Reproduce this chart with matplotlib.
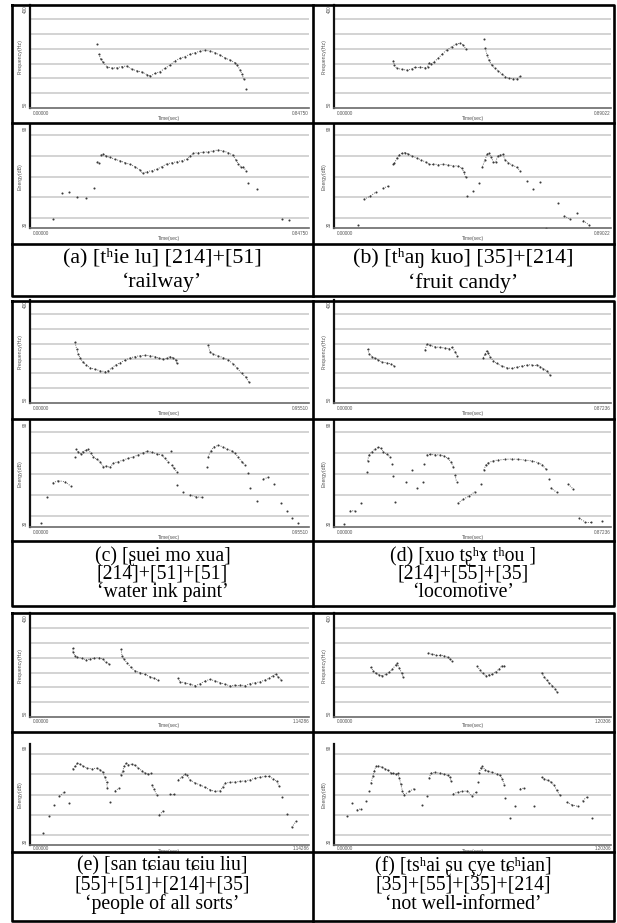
import numpy as np
import matplotlib.pyplot as plt
from matplotlib.lines import Line2D
from matplotlib.patches import Rectangle
from matplotlib.collections import LineCollection

# --- DATA (time in s, F0 in Hz, energy in dB) ---
A_FREQ_T = [0.204, 0.209, 0.215, 0.222, 0.233, 0.248, 0.263, 0.279, 0.294, 0.309, 0.324, 0.339, 0.355, 0.365,
            0.380, 0.395, 0.410, 0.425, 0.441, 0.456, 0.471, 0.486, 0.501, 0.517, 0.532, 0.547, 0.562, 0.577,
            0.592, 0.608, 0.623, 0.630, 0.638, 0.644, 0.649, 0.656]
A_FREQ_HZ = [266, 233, 215, 205, 190, 185, 186, 190, 192, 181, 176, 172, 163, 158, 167, 173, 184, 195, 210, 218,
             224, 232, 237, 242, 245, 243, 237, 229, 219, 212, 203, 194, 179, 165, 147, 113]
A_ENER_T = [0.071, 0.096, 0.119, 0.144, 0.169, 0.194, 0.205, 0.209, 0.215, 0.223, 0.231, 0.243, 0.258, 0.273,
            0.289, 0.304, 0.319, 0.334, 0.342, 0.355, 0.370, 0.385, 0.400, 0.415, 0.431, 0.446, 0.461, 0.476,
            0.486, 0.496, 0.511, 0.527, 0.542, 0.557, 0.572, 0.587, 0.602, 0.616, 0.626, 0.633, 0.640, 0.648,
            0.656, 0.663, 0.689, 0.765, 0.788]
A_ENER_DB = [35.1, 50.2, 50.8, 48.2, 47.3, 53.5, 68.6, 68.0, 72.5, 73.1, 71.9, 71.2, 70.0, 69.2, 68.0, 67.1,
             65.7, 63.8, 61.9, 62.8, 63.4, 64.2, 65.7, 67.3, 68.0, 68.6, 69.2, 70.0, 71.9, 73.5, 73.9, 74.1,
             74.4, 75.0, 75.4, 74.9, 73.9, 72.5, 69.6, 67.3, 65.7, 65.7, 63.4, 56.0, 52.7, 35.2, 34.5]

B_FREQ_T = [0.191, 0.194, 0.202, 0.218, 0.234, 0.250, 0.260, 0.276, 0.293, 0.301, 0.305, 0.312, 0.322, 0.335,
            0.348, 0.362, 0.378, 0.391, 0.405, 0.416, 0.424, 0.482, 0.486, 0.492, 0.498, 0.507, 0.518, 0.528,
            0.539, 0.550, 0.562, 0.576, 0.589, 0.598]
B_FREQ_HZ = [210, 195, 184, 181, 178, 182, 188, 188, 186, 190, 203, 198, 207, 218, 233, 246, 257, 266, 269, 263,
             249, 284, 252, 229, 212, 195, 184, 175, 165, 156, 150, 149, 148, 158]
B_ENER_T = [0.076, 0.096, 0.117, 0.135, 0.157, 0.175, 0.191, 0.194, 0.202, 0.209, 0.218, 0.228, 0.239, 0.252,
            0.266, 0.280, 0.295, 0.305, 0.319, 0.335, 0.351, 0.367, 0.383, 0.400, 0.410, 0.417, 0.423, 0.428,
            0.446, 0.467, 0.477, 0.485, 0.492, 0.498, 0.505, 0.512, 0.520, 0.526, 0.535, 0.543, 0.550, 0.560,
            0.573, 0.587, 0.598, 0.619, 0.639, 0.662, 0.680, 0.719, 0.740, 0.759, 0.780, 0.801, 0.820]
B_ENER_DB = [31.7, 46.7, 48.6, 51.0, 53.1, 54.5, 67.1, 67.7, 70.6, 72.5, 73.5, 73.9, 73.1, 71.9, 70.8, 69.6,
             68.4, 67.3, 67.3, 66.9, 67.1, 66.7, 66.3, 66.1, 64.9, 62.8, 59.5, 48.6, 51.6, 56.4, 65.7, 69.6,
             73.1, 73.5, 71.2, 68.6, 68.6, 72.1, 72.5, 72.9, 69.6, 68.0, 66.7, 65.4, 63.4, 57.4, 52.5, 56.6,
             30.2, 44.4, 37.0, 35.1, 38.9, 34.3, 31.7]

C_FREQ_T = [0.154, 0.160, 0.165, 0.171, 0.180, 0.192, 0.205, 0.223, 0.240, 0.257, 0.268, 0.280, 0.294, 0.308,
            0.325, 0.342, 0.359, 0.377, 0.394, 0.411, 0.428, 0.443, 0.456, 0.468, 0.479, 0.491, 0.499, 0.502,
            0.610, 0.616, 0.627, 0.645, 0.662, 0.679, 0.696, 0.710, 0.725, 0.739, 0.749]
C_FREQ_HZ = [255, 232, 216, 203, 190, 179, 169, 164, 159, 156, 159, 169, 179, 186, 195, 202, 207, 210, 211, 210,
             207, 201, 198, 201, 207, 203, 195, 184, 246, 224, 215, 209, 203, 195, 182, 167, 150, 137, 121]
C_ENER_T = [0.037, 0.057, 0.078, 0.097, 0.120, 0.139, 0.154, 0.158, 0.165, 0.174, 0.180, 0.192, 0.200, 0.208,
            0.217, 0.228, 0.240, 0.251, 0.260, 0.274, 0.285, 0.302, 0.319, 0.337, 0.354, 0.371, 0.388, 0.402,
            0.417, 0.434, 0.451, 0.462, 0.473, 0.482, 0.485, 0.493, 0.502, 0.504, 0.525, 0.548, 0.568, 0.588,
            0.607, 0.610, 0.619, 0.630, 0.645, 0.660, 0.675, 0.690, 0.702, 0.713, 0.725, 0.736, 0.747, 0.753,
            0.776, 0.799, 0.816, 0.836, 0.859, 0.879, 0.898, 0.918]
C_ENER_DB = [32.4, 46.8, 55.1, 56.2, 55.6, 53.2, 69.8, 74.0, 72.6, 71.3, 72.6, 73.6, 74.0, 71.7, 69.8, 68.3,
             67.0, 64.1, 64.5, 63.8, 66.1, 67.0, 67.9, 68.9, 69.8, 70.8, 72.1, 73.0, 72.3, 71.3, 70.8, 68.9,
             67.0, 73.2, 65.1, 63.2, 61.3, 53.8, 50.0, 48.1, 47.1, 46.8, 64.1, 69.8, 73.2, 75.4, 76.2, 75.4,
             74.0, 73.2, 71.7, 69.5, 67.0, 65.1, 60.7, 52.2, 44.7, 57.2, 58.1, 54.2, 43.8, 39.1, 34.9, 32.1]

D_FREQ_T = [0.106, 0.111, 0.119, 0.129, 0.140, 0.152, 0.166, 0.180, 0.188, 0.287, 0.292, 0.302, 0.318, 0.334,
            0.350, 0.362, 0.373, 0.381, 0.388, 0.470, 0.476, 0.481, 0.486, 0.492, 0.502, 0.512, 0.528, 0.544,
            0.560, 0.575, 0.591, 0.607, 0.623, 0.638, 0.649, 0.659, 0.670, 0.680]
D_FREQ_HZ = [232, 216, 207, 201, 195, 188, 186, 182, 176, 229, 249, 245, 240, 238, 236, 234, 238, 224, 210, 203,
             216, 227, 218, 205, 193, 184, 175, 169, 167, 171, 175, 178, 180, 180, 173, 166, 159, 144]
D_ENER_T = [0.032, 0.050, 0.066, 0.085, 0.104, 0.106, 0.110, 0.119, 0.129, 0.140, 0.148, 0.155, 0.166, 0.176,
            0.182, 0.187, 0.192, 0.227, 0.245, 0.262, 0.281, 0.284, 0.292, 0.302, 0.318, 0.334, 0.347, 0.358,
            0.368, 0.376, 0.381, 0.386, 0.390, 0.407, 0.425, 0.444, 0.463, 0.472, 0.478, 0.486, 0.502, 0.517,
            0.539, 0.560, 0.580, 0.602, 0.623, 0.643, 0.656, 0.667, 0.677, 0.683, 0.701, 0.738, 0.754, 0.772,
            0.790, 0.808, 0.845]
D_ENER_DB = [31.7, 39.1, 39.2, 43.4, 61.0, 67.5, 70.8, 72.6, 74.0, 75.1, 74.5, 72.6, 71.3, 69.8, 65.5, 58.9,
             44.3, 55.3, 62.3, 52.2, 55.6, 65.5, 70.8, 71.1, 70.9, 70.8, 70.2, 68.9, 67.0, 64.1, 59.4, 55.6,
             43.4, 45.7, 47.5, 50.0, 54.2, 62.3, 65.1, 66.4, 67.5, 67.9, 68.3, 68.5, 68.3, 67.9, 67.4, 66.4,
             65.3, 62.7, 57.0, 52.2, 49.6, 54.3, 51.3, 34.9, 33.0, 33.0, 33.6]

E_FREQ_T = [0.175, 0.177, 0.184, 0.194, 0.212, 0.229, 0.246, 0.263, 0.283, 0.298, 0.311, 0.325, 0.373, 0.377,
            0.385, 0.399, 0.413, 0.430, 0.451, 0.471, 0.492, 0.508, 0.526, 0.607, 0.614, 0.635, 0.655, 0.676,
            0.696, 0.717, 0.737, 0.758, 0.778, 0.799, 0.819, 0.840, 0.860, 0.881, 0.901, 0.922, 0.942, 0.963,
            0.980, 0.994, 1.008, 1.017, 1.028]
E_FREQ_HZ = [282, 269, 257, 252, 249, 243, 246, 249, 251, 246, 235, 228, 279, 257, 245, 232, 218, 206, 200, 194,
             186, 181, 174, 181, 169, 166, 161, 156, 162, 172, 177, 172, 166, 161, 155, 158, 158, 156, 163, 166,
             169, 175, 181, 189, 196, 185, 176]
E_ENER_T = [0.055, 0.079, 0.098, 0.120, 0.139, 0.161, 0.175, 0.184, 0.194, 0.205, 0.218, 0.235, 0.253, 0.273,
            0.287, 0.298, 0.307, 0.314, 0.317, 0.328, 0.348, 0.366, 0.372, 0.380, 0.385, 0.393, 0.403, 0.417,
            0.430, 0.444, 0.458, 0.471, 0.485, 0.494, 0.499, 0.508, 0.519, 0.530, 0.546, 0.573, 0.591, 0.607,
            0.621, 0.635, 0.644, 0.655, 0.676, 0.696, 0.717, 0.737, 0.758, 0.778, 0.789, 0.799, 0.819, 0.840,
            0.860, 0.881, 0.901, 0.922, 0.942, 0.963, 0.980, 0.997, 1.011, 1.021, 1.031, 1.051, 1.072, 1.090]
E_ENER_DB = [37.1, 47.4, 53.9, 58.9, 61.3, 54.9, 75.2, 76.7, 78.6, 78.0, 76.7, 75.7, 75.2, 75.7, 74.7, 73.3,
             70.1, 67.4, 63.8, 55.3, 62.2, 63.8, 71.7, 73.7, 76.7, 78.6, 77.6, 78.0, 77.3, 75.7, 74.1, 72.7,
             72.1, 72.7, 65.8, 63.2, 59.8, 48.0, 50.3, 60.2, 60.2, 68.7, 70.3, 72.1, 71.3, 68.7, 66.8, 65.8,
             64.2, 62.8, 61.8, 62.2, 64.2, 66.8, 67.2, 67.4, 67.8, 68.1, 68.7, 69.7, 70.3, 70.7, 70.7, 69.3,
             67.8, 64.8, 58.5, 48.4, 40.5, 44.1]

F_FREQ_T = [0.159, 0.171, 0.181, 0.195, 0.210, 0.225, 0.239, 0.253, 0.268, 0.275, 0.284, 0.294, 0.300, 0.410,
            0.424, 0.442, 0.460, 0.479, 0.494, 0.504, 0.511, 0.622, 0.634, 0.646, 0.659, 0.673, 0.688, 0.702,
            0.717, 0.728, 0.740, 0.902, 0.912, 0.924, 0.935, 0.948, 0.960, 0.970]
F_FREQ_HZ = [218, 206, 198, 192, 190, 194, 201, 211, 226, 232, 215, 198, 186, 267, 262, 260, 260, 257, 252, 246,
             240, 222, 209, 198, 190, 192, 195, 203, 212, 222, 224, 200, 186, 175, 164, 156, 145, 134]
F_ENER_T = [0.055, 0.077, 0.099, 0.117, 0.138, 0.153, 0.161, 0.168, 0.175, 0.182, 0.192, 0.207, 0.222, 0.236,
            0.248, 0.258, 0.268, 0.277, 0.284, 0.290, 0.297, 0.304, 0.326, 0.347, 0.384, 0.404, 0.413, 0.421,
            0.439, 0.460, 0.479, 0.494, 0.504, 0.508, 0.518, 0.537, 0.557, 0.579, 0.598, 0.617, 0.624, 0.630,
            0.637, 0.644, 0.656, 0.670, 0.688, 0.707, 0.721, 0.731, 0.740, 0.743, 0.764, 0.786, 0.808, 0.827,
            0.870, 0.902, 0.913, 0.928, 0.942, 0.957, 0.967, 0.982, 1.011, 1.032, 1.058, 1.080, 1.098, 1.119]
F_ENER_DB = [47.0, 54.9, 50.9, 51.5, 56.3, 61.8, 66.8, 70.7, 74.1, 76.7, 77.0, 76.3, 75.2, 74.3, 72.7, 72.7,
             72.1, 72.7, 69.7, 66.2, 62.2, 59.8, 61.8, 63.4, 53.5, 58.9, 69.7, 72.7, 73.1, 72.7, 72.1, 71.3,
             70.3, 67.8, 60.4, 61.4, 61.8, 62.2, 59.2, 61.4, 67.4, 72.7, 75.7, 76.7, 74.7, 73.7, 73.1, 72.3,
             71.3, 69.3, 65.8, 57.9, 46.0, 53.3, 63.4, 63.8, 53.3, 70.3, 69.3, 68.4, 67.4, 65.4, 62.4, 59.5,
             55.5, 53.9, 53.0, 56.3, 58.5, 46.0]

DURATIONS = [0.84750, 0.89022, 0.95510, 0.87236, 1.14286, 1.20306]
DUR_LABELS = ["0.84750", "0.89022", "0.95510", "0.87236", "1.14286", "1.20306"]

CAPTIONS = [
    ["(a) [t\u02b0ie lu] [214]+[51]", "\u2018railway\u2019"],
    ["(b) [t\u02b0a\u014b kuo] [35]+[214]", "\u2018fruit candy\u2019"],
    ["(c) [\u0282uei mo xua]", "[214]+[51]+[51]", "\u2018water ink paint\u2019"],
    ["(d) [xuo t\u0282\u02b0\u0264 t\u02b0ou ]", "[214]+[55]+[35]", "\u2018locomotive\u2019"],
    ["(e) [san t\u0255iau t\u0255iu liu]", "[55]+[51]+[214]+[35]", "\u2018people of all sorts\u2019"],
    ["(f) [ts\u02b0ai \u0282u \u00e7ye t\u0255\u02b0ian]", "[35]+[55]+[35]+[214]", "\u2018not well-informed\u2019"],
]

FREQ = [(A_FREQ_T, A_FREQ_HZ), (B_FREQ_T, B_FREQ_HZ), (C_FREQ_T, C_FREQ_HZ),
        (D_FREQ_T, D_FREQ_HZ), (E_FREQ_T, E_FREQ_HZ), (F_FREQ_T, F_FREQ_HZ)]
ENER = [(A_ENER_T, A_ENER_DB), (B_ENER_T, B_ENER_DB), (C_ENER_T, C_ENER_DB),
        (D_ENER_T, D_ENER_DB), (E_ENER_T, E_ENER_DB), (F_ENER_T, F_ENER_DB)]

# --- LAYOUT (pixels) ---
W, H = 617, 923
COL_X = [12, 313, 614]
AX_X = [(30, 309), (334, 611)]
# block: top, freq/energy divider, energy/caption divider, bottom
BLOCKS = [(5, 123, 244, 296), (301, 419, 541, 606), (613, 732, 852, 921)]
FREQ_AX = [(4.5, 108), (299.5, 403), (613.5, 717)]
ENER_AX = [(125, 228), (421, 527), (744, 845)]
# offsets (px) of tick labels / "Time(sec)" under each row of plots
FREQ_OFF = [(-3, -8), (-3, -8), (-2, -6)]
ENER_OFF = [(-3, -8), (-3, -8), (-1, -3.5)]
CAP_TOP = [248, 546, 856]        # top of caption text block
CAP_SIZE = [15.8, 14.2, 14.2]
CAP_LS = [1.33, 0.94, 1.0]

SERIF = ['Liberation Serif', 'DejaVu Serif']
SANS = ['Liberation Sans', 'DejaVu Sans']

fig = plt.figure(figsize=(W / 100, H / 100), dpi=100)
fig.patch.set_facecolor('white')


def fbox(x0, y0, x1, y1):
    return [x0 / W, 1 - y1 / H, (x1 - x0) / W, (y1 - y0) / H]


def line(xs, ys):
    fig.add_artist(Line2D([x / W for x in xs], [1 - y / H for y in ys], color='black', lw=1.9,
                          solid_capstyle='projecting', zorder=5))


def panel(cell, axbox, t, v, dur, dur_lab, kind, off):
    x0, x1, ytop, ybot = axbox
    ax = fig.add_axes(fbox(x0, ytop, x1, ybot))
    ax.patch.set_visible(False)
    if kind == 'freq':
        lo, hi, grid, lab = 50, 400, [100, 150, 200, 250, 300, 350], 'Frequency(Hz)'
    else:
        lo, hi, grid, lab = 30, 90, [36, 48, 60, 72, 84], 'Energy(dB)'
    ax.set_xlim(0, dur)
    ax.set_ylim(lo, hi)
    ax.set_yticks(grid)
    ax.set_xticks([])
    ax.tick_params(left=False, labelleft=False)
    ax.grid(axis='y', color='#c8c8c8', lw=1.1)
    ax.set_axisbelow(True)
    for s in ('top', 'right'):
        ax.spines[s].set_visible(False)
    ax.spines['left'].set_color('#111111')
    ax.spines['left'].set_linewidth(1.6)
    ax.spines['bottom'].set_color('#6a6a6a')
    ax.spines['bottom'].set_linewidth(1.2)

    # faint dotted trace between neighbouring samples (display distance < 7.5 px)
    pts = ax.transData.transform(np.column_stack([t, v]))
    d = np.hypot(*np.diff(pts, axis=0).T)
    segs = [[(t[k], v[k]), (t[k + 1], v[k + 1])] for k in range(len(t) - 1) if d[k] < 7.5]
    ax.add_collection(LineCollection(segs, colors='#6a6a6a', linewidths=0.7, linestyles=(0, (1.0, 1.4))))
    ax.plot(t, v, 'o', ms=1.5, color='#3a3a3a', mec='none')

    clip = Rectangle((cell[0] / W, 1 - cell[3] / H), (cell[2] - cell[0]) / W, (cell[3] - cell[1]) / H,
                     transform=fig.transFigure, fill=False)
    kw = dict(xycoords='axes fraction', textcoords='offset pixels', color='#555555', family=SANS)
    txts = [
        ax.annotate(str(hi), xy=(0, 1), xytext=(-2, -1), rotation=90, ha='right', va='top', fontsize=3.4, **kw),
        ax.annotate(str(lo), xy=(0, 0), xytext=(-2, 1), rotation=90, ha='right', va='bottom', fontsize=3.4, **kw),
        ax.annotate(lab, xy=(0, 0.5), xytext=(-10, 0), rotation=90, ha='center', va='center', fontsize=3.8, **kw),
        ax.annotate('0.00000', xy=(0, 0), xytext=(3, off[0]), ha='left', va='top', fontsize=3.3, **kw),
        ax.annotate(dur_lab, xy=(1, 0), xytext=(0, off[0]), ha='right', va='top', fontsize=3.3, **kw),
        ax.annotate('Time(sec)', xy=(0.5, 0), xytext=(0, off[1]), ha='center', va='top', fontsize=3.6, **kw),
    ]
    for tx in txts:
        tx.set_clip_on(True)
        tx.set_clip_path(clip)


for b, (top, mid, cap, bot) in enumerate(BLOCKS):
    for c in range(2):
        i = 2 * b + c
        cx0, cx1 = COL_X[c], COL_X[c + 1]
        ax0, ax1 = AX_X[c]
        panel((cx0, top, cx1, mid), (ax0, ax1) + FREQ_AX[b], *FREQ[i], DURATIONS[i], DUR_LABELS[i],
              'freq', FREQ_OFF[b])
        panel((cx0, mid, cx1, cap), (ax0, ax1) + ENER_AX[b], *ENER[i], DURATIONS[i], DUR_LABELS[i],
              'ener', ENER_OFF[b])
        xc = (cx0 + cx1) / 2
        fig.text(xc / W, 1 - CAP_TOP[b] / H, "\n".join(CAPTIONS[i]), ha='center', va='top',
                 multialignment='center', linespacing=CAP_LS[b],
                 fontsize=CAP_SIZE[b], family=SERIF, color='black')
    # table borders
    line([COL_X[0], COL_X[2], COL_X[2], COL_X[0], COL_X[0]], [top, top, bot, bot, top])
    line([COL_X[1], COL_X[1]], [top, bot])
    line([COL_X[0], COL_X[2]], [mid, mid])
    line([COL_X[0], COL_X[2]], [cap, cap])

fig.savefig('out.png', dpi=100, facecolor='white')
